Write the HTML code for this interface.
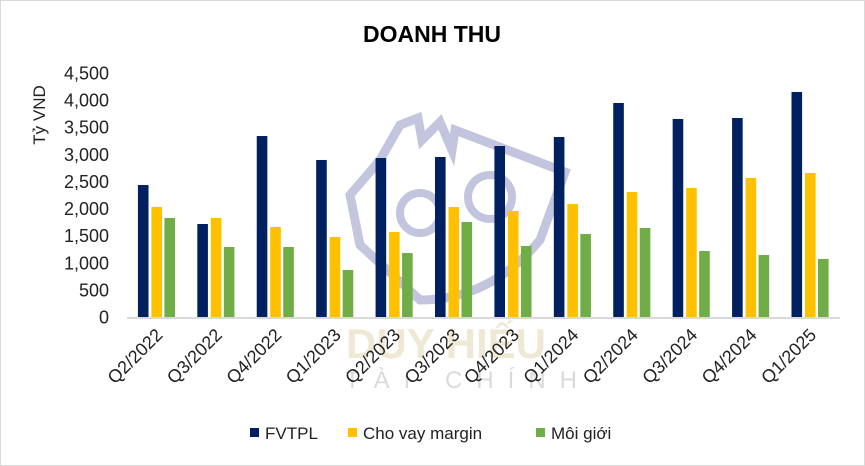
<!DOCTYPE html>
<html><head><meta charset="utf-8"><style>
html,body{margin:0;padding:0;background:#fff;}
svg{display:block;font-family:"Liberation Sans",sans-serif;}
</style></head><body>
<svg id="chart" width="865" height="466" viewBox="0 0 865 466">
<rect x="0.5" y="0.5" width="864" height="465" fill="#fff" stroke="#d9d9d9"/>
<text x="432" y="42" text-anchor="middle" font-size="23" font-weight="bold" fill="#000">DOANH THU</text>
<text transform="translate(45,115) rotate(-90)" text-anchor="middle" font-size="17" fill="#222">Tỷ VND</text>
<g opacity="0.3">
<path d="M400,125 L418,118 L422,140 L440,122 L452,150 L455,130 L565,172 L540,240 Q490,300 420,300 L360,245 L350,195 L380,160 Z" fill="none" stroke="#3a4290" stroke-width="9"/>
<circle cx="420" cy="213" r="20" fill="none" stroke="#3a4290" stroke-width="8"/>
<circle cx="490" cy="197" r="22" fill="none" stroke="#3a4290" stroke-width="8"/>
<text x="446" y="358" text-anchor="middle" font-size="42" font-weight="bold" fill="#c9b678">DUY HIẾU</text>
<text x="468" y="388" text-anchor="middle" font-size="24" letter-spacing="14" fill="#888">TÀI CHÍNH</text>
</g>
<g id="yticks"></g><g id="bars"></g><g id="xlabels"></g>
<line x1="127" y1="318" x2="840" y2="318" stroke="#d9d9d9" stroke-width="2"/>
<g>
<g><rect x="250" y="428" width="9" height="9" fill="#002060"/><text x="265" y="439" font-size="17" fill="#222">FVTPL</text></g>
<g><rect x="348" y="428" width="9" height="9" fill="#ffc000"/><text x="363" y="439" font-size="17" fill="#222">Cho vay margin</text></g>
<g><rect x="536" y="428" width="9" height="9" fill="#70ad47"/><text x="551" y="439" font-size="17" fill="#222">Môi giới</text></g>
</g>
</svg>
<script>
const categories=["Q2/2022","Q3/2022","Q4/2022","Q1/2023","Q2/2023","Q3/2023","Q4/2023","Q1/2024","Q2/2024","Q3/2024","Q4/2024","Q1/2025"];
const fvtpl=[2443,1725,3345,2904,2940,2959,3161,3327,3953,3659,3677,4156];
const margin=[2038,1836,1670,1486,1578,2038,1965,2093,2314,2388,2572,2664];
const brokerage=[1836,1302,1302,878,1191,1762,1320,1541,1652,1228,1154,1081];
const yTicks=[0,500,1000,1500,2000,2500,3000,3500,4000,4500];
const yTickLabels=["0","500","1,000","1,500","2,000","2,500","3,000","3,500","4,000","4,500"];
const NS="http://www.w3.org/2000/svg";
const x0=127,x1=840,yBase=317.7,yTop=73.3,yMax=4500;
const band=(x1-x0)/categories.length;
function y(v){return yBase-(v/yMax)*(yBase-yTop);}
function cx(i){return x0+band*(i+0.5);}
function mk(t,a){const e=document.createElementNS(NS,t);for(const k in a)e.setAttribute(k,a[k]);return e;}
const yt=document.getElementById('yticks');
yTicks.forEach((v,i)=>{const t=mk('text',{x:109,y:y(v)+6,'text-anchor':'end','font-size':'18',fill:'#222'});t.textContent=yTickLabels[i];


yt.appendChild(t);});
const bg=document.getElementById('bars');
const series=[[fvtpl,'#002060',-13.5,'bar-fvtpl'],[margin,'#ffc000',0,'bar-margin'],[brokerage,'#70ad47',13,'bar-brokerage']];
categories.forEach((c,i)=>{series.forEach(s=>{const v=s[0][i];const r=mk('rect',{x:cx(i)+s[2]-5.3,y:y(v),width:10.6,height:yBase-y(v),fill:s[1]});


bg.appendChild(r);});});
const xl=document.getElementById('xlabels');
categories.forEach((c,i)=>{const t=mk('text',{transform:`translate(${cx(i)+7},336) rotate(-45)`,'text-anchor':'end','font-size':'18',fill:'#222'});t.textContent=c;


xl.appendChild(t);});
</script>
</body></html>
